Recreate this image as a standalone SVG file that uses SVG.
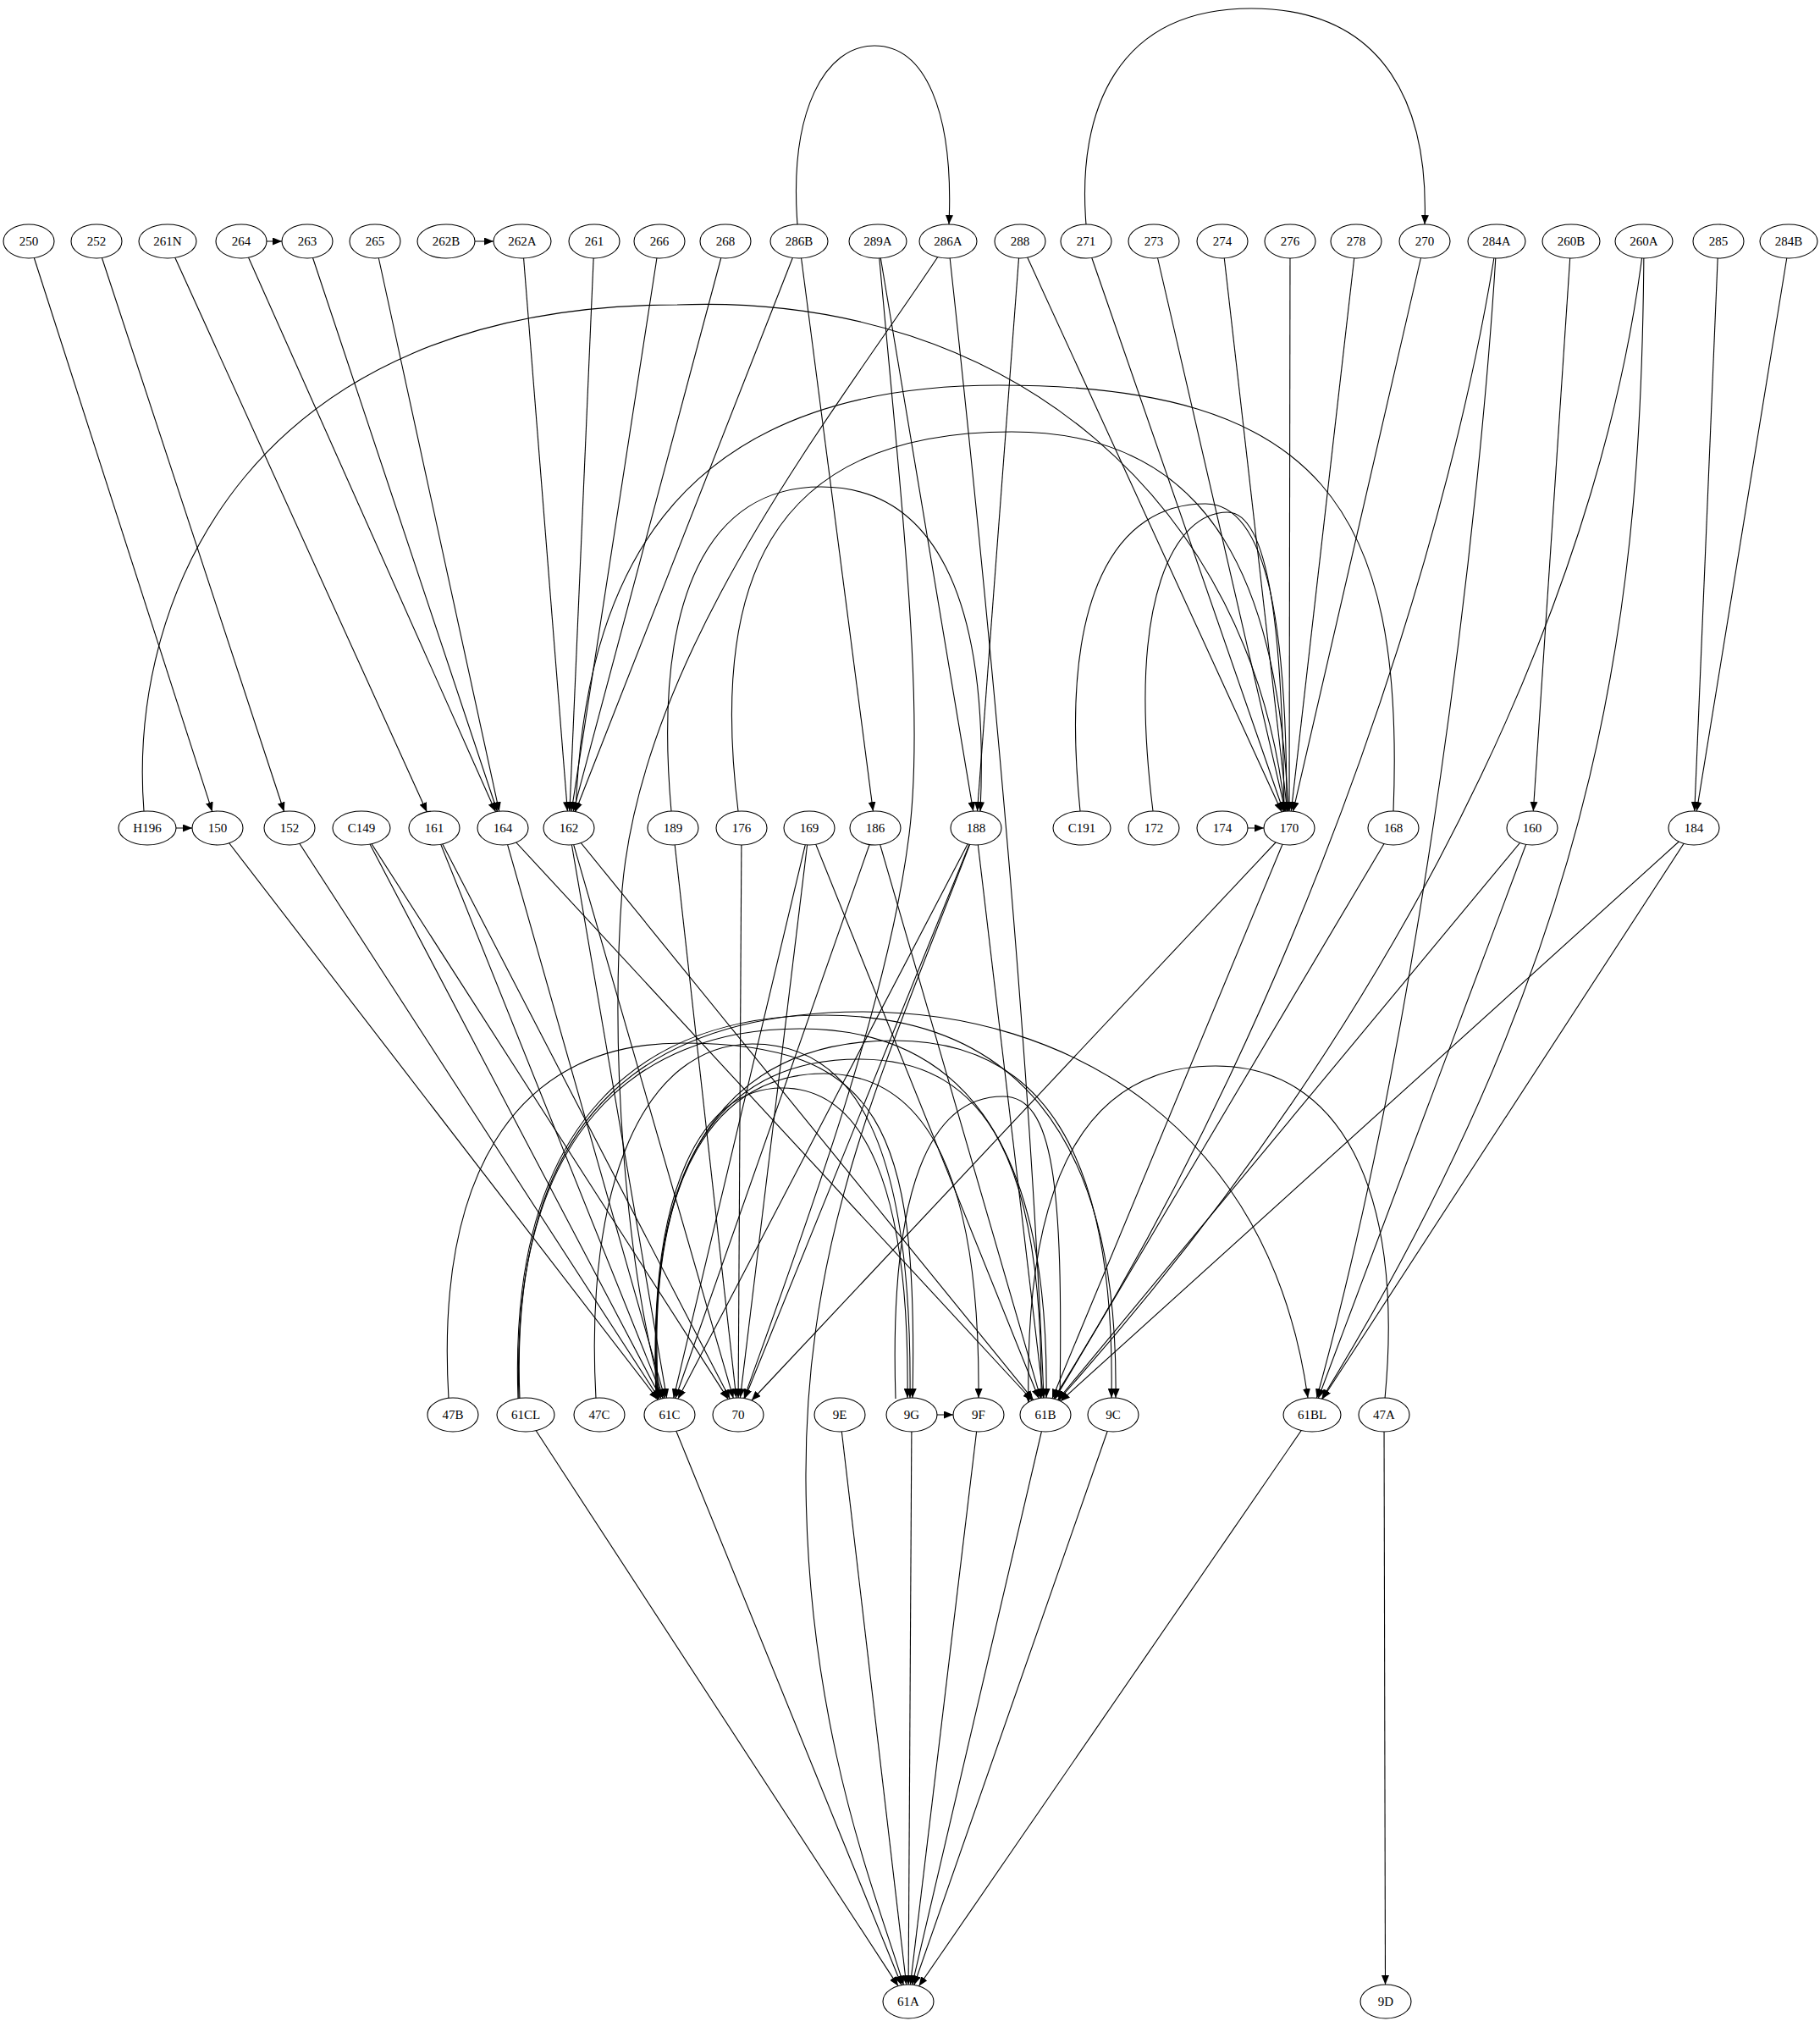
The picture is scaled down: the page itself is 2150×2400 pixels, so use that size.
<svg xmlns="http://www.w3.org/2000/svg" width="2150" height="2400" viewBox="0 0 2150 2400">
<style>
.node ellipse{fill:#fff;stroke:#000;stroke-width:1.1}
.node text{font-family:"Liberation Serif","Times New Roman",serif;font-size:15px;text-anchor:middle;fill:#000}
.edges path{fill:none;stroke:#000;stroke-width:1.1;marker-end:url(#arr)}
</style>
<defs>
<marker id="arr" markerWidth="12" markerHeight="9" refX="11" refY="4.5" orient="auto" markerUnits="userSpaceOnUse"><path d="M0,0 L11,4.5 L0,9 z" fill="#000"/></marker>
</defs>
<rect width="2150" height="2400" fill="#fff"/>
<g id="connectors" class="edges">
<path d="M34,285 L250.7,958.4"/>
<path d="M114,285 L335.6,958.5"/>
<path d="M198,285 L504.3,958.9"/>
<path d="M285,285 L585.5,958.8"/>
<path d="M363,285 L587.5,958.5"/>
<path d="M443,285 L589.7,958.2"/>
<path d="M617,285 L670.4,958"/>
<path d="M702,285 L672.9,958"/>
<path d="M779,285 L675.1,958.1"/>
<path d="M857,285 L677.3,958.3"/>
<path d="M944,285 L679.6,958.7"/>
<path d="M944,285 L1031.4,958.1"/>
<path d="M1037,285 L1149.7,958.1"/>
<path d="M1205,285 L1154.5,958"/>
<path d="M1205,285 L1514.2,958.9"/>
<path d="M1283,285 L1516.3,958.5"/>
<path d="M1363,285 L1518.4,958.2"/>
<path d="M1444,285 L1520.7,958"/>
<path d="M1524,285 L1523,958"/>
<path d="M1602,285 L1525.3,958"/>
<path d="M1683,285 L1527.6,958.2"/>
<path d="M1856,285 L1811.3,958"/>
<path d="M2030,285 L2001.8,958"/>
<path d="M2114,285 L2004.3,958.1"/>
<path d="M285,285 L333,285"/>
<path d="M527,285 L583,285"/>
<path d="M942,265 C932,130 975,54 1033,54 C1092,54 1127,130 1121,265"/>
<path d="M1283,265 C1272,130 1320,10 1478,10 C1640,10 1688,130 1683,265"/>
<path d="M1120,285 C1160,650 1215,1200 1233,1651"/>
<path d="M1768,285 C1720,600 1560,1150 1244.7,1652.1"/>
<path d="M1768,285 C1750,600 1680,1200 1555.5,1651.3"/>
<path d="M1942,285 C1900,650 1700,1150 1250.3,1653.8"/>
<path d="M1942,285 C1940,700 1900,1100 1561.5,1652.2"/>
<path d="M1120,285 C1000,470 760,760 735,1050 C720,1250 740,1500 783,1651.5"/>
<path d="M1037,285 C1065,600 1095,850 1072,1000 C1045,1200 940,1480 878.9,1651.5"/>
<path d="M174,978 L227,978"/>
<path d="M1444,978 L1493,978"/>
<path d="M170,958 C150,700 300,360 800,360 C1200,345 1480,600 1518,958.3"/>
<path d="M1646,958 C1660,600 1560,455 1180,455 C780,455 690,700 680,958.7"/>
<path d="M872,958 C840,700 900,510 1195,510 C1440,510 1510,700 1522,958"/>
<path d="M793,958 C770,700 840,575 970,575 C1100,575 1170,700 1158,958.3"/>
<path d="M1276,958 C1250,700 1320,595 1424,595 C1500,595 1520,750 1520,958"/>
<path d="M1362,958 C1330,700 1390,605 1450,605 C1500,605 1515,750 1517,958"/>
<path d="M257,978 L777.3,1653.2"/>
<path d="M342,978 L779.1,1652.6"/>
<path d="M427,978 L781.1,1652.1"/>
<path d="M427,978 L860.2,1652.6"/>
<path d="M513,978 L783.3,1651.7"/>
<path d="M513,978 L862.2,1652.1"/>
<path d="M594,978 L785.4,1651.4"/>
<path d="M594,978 L1219.3,1654"/>
<path d="M672,978 L787.6,1651.1"/>
<path d="M672,978 L866.3,1651.4"/>
<path d="M672,978 L1220.7,1653.4"/>
<path d="M795,978 L869.8,1651.1"/>
<path d="M876,978 L872.1,1651"/>
<path d="M956,978 L795.7,1651.3"/>
<path d="M956,978 L874.4,1651.1"/>
<path d="M956,978 L1227.2,1651.7"/>
<path d="M1034,978 L797.8,1651.5"/>
<path d="M1034,978 L1229.3,1651.4"/>
<path d="M1153,978 L800.9,1652.1"/>
<path d="M1153,978 L879.8,1651.7"/>
<path d="M1153,978 L1232.6,1651.1"/>
<path d="M1523,978 L887.9,1654"/>
<path d="M1523,978 L1243,1651.7"/>
<path d="M1646,978 L1246,1652.4"/>
<path d="M1810,978 L1249.5,1653.5"/>
<path d="M1810,978 L1557.3,1651.5"/>
<path d="M2001,978 L1252.8,1654.9"/>
<path d="M2001,978 L1562.2,1652.3"/>
<path d="M1153,978 C1050,1250 950,1450 952,1750 C954,2050 1040,2250 1067.3,2344.4"/>
<path d="M1077,1671 L1126,1671"/>
<path d="M530,1652 C515,1400 600,1232 805,1232 C1040,1232 1085,1330 1078,1651"/>
<path d="M704,1652 C690,1400 760,1233 889,1233 C1010,1233 1078,1350 1075,1651"/>
<path d="M775,1652 C765,1400 830,1285 924,1285 C1020,1285 1075,1400 1072,1651"/>
<path d="M776,1652 C762,1380 850,1268 973,1268 C1100,1268 1158,1400 1156,1651"/>
<path d="M777,1652 C760,1360 860,1251 1015,1251 C1170,1251 1232,1380 1230,1651"/>
<path d="M778,1652 C758,1340 880,1229 1057,1229 C1230,1229 1318,1360 1313,1651"/>
<path d="M612,1652 C600,1320 760,1199 973,1199 C1190,1199 1322,1330 1318,1651"/>
<path d="M613,1652 C602,1340 750,1215 945,1215 C1130,1215 1240,1340 1236,1651"/>
<path d="M614,1652 C600,1300 780,1195 1020,1195 C1260,1195 1500,1330 1545,1651"/>
<path d="M1058,1652 C1050,1400 1100,1295 1185,1295 C1245,1295 1256,1400 1252,1654.5"/>
<path d="M1636,1652 C1660,1400 1580,1259 1436,1259 C1290,1259 1210,1380 1215,1656.7"/>
<path d="M621,1671 L1061,2345.6"/>
<path d="M791,1671 L1065.1,2344.7"/>
<path d="M992,1671 L1070.7,2344.1"/>
<path d="M1077,1671 L1073.1,2344"/>
<path d="M1156,1671 L1075.4,2344.1"/>
<path d="M1235,1671 L1077.6,2344.2"/>
<path d="M1315,1671 L1079.8,2344.5"/>
<path d="M1550,1671 L1085.5,2345.8"/>
<path d="M1635,1671 L1636.5,2344"/>
</g>
<g id="n-250" class="node"><ellipse cx="34" cy="285" rx="30" ry="20"/><text x="34" y="290">250</text></g>
<g id="n-252" class="node"><ellipse cx="114" cy="285" rx="30" ry="20"/><text x="114" y="290">252</text></g>
<g id="n-261N" class="node"><ellipse cx="198" cy="285" rx="34" ry="20"/><text x="198" y="290">261N</text></g>
<g id="n-264" class="node"><ellipse cx="285" cy="285" rx="30" ry="20"/><text x="285" y="290">264</text></g>
<g id="n-263" class="node"><ellipse cx="363" cy="285" rx="30" ry="20"/><text x="363" y="290">263</text></g>
<g id="n-265" class="node"><ellipse cx="443" cy="285" rx="30" ry="20"/><text x="443" y="290">265</text></g>
<g id="n-262B" class="node"><ellipse cx="527" cy="285" rx="34" ry="20"/><text x="527" y="290">262B</text></g>
<g id="n-262A" class="node"><ellipse cx="617" cy="285" rx="34" ry="20"/><text x="617" y="290">262A</text></g>
<g id="n-261" class="node"><ellipse cx="702" cy="285" rx="30" ry="20"/><text x="702" y="290">261</text></g>
<g id="n-266" class="node"><ellipse cx="779" cy="285" rx="30" ry="20"/><text x="779" y="290">266</text></g>
<g id="n-268" class="node"><ellipse cx="857" cy="285" rx="30" ry="20"/><text x="857" y="290">268</text></g>
<g id="n-286B" class="node"><ellipse cx="944" cy="285" rx="34" ry="20"/><text x="944" y="290">286B</text></g>
<g id="n-289A" class="node"><ellipse cx="1037" cy="285" rx="34" ry="20"/><text x="1037" y="290">289A</text></g>
<g id="n-286A" class="node"><ellipse cx="1120" cy="285" rx="34" ry="20"/><text x="1120" y="290">286A</text></g>
<g id="n-288" class="node"><ellipse cx="1205" cy="285" rx="30" ry="20"/><text x="1205" y="290">288</text></g>
<g id="n-271" class="node"><ellipse cx="1283" cy="285" rx="30" ry="20"/><text x="1283" y="290">271</text></g>
<g id="n-273" class="node"><ellipse cx="1363" cy="285" rx="30" ry="20"/><text x="1363" y="290">273</text></g>
<g id="n-274" class="node"><ellipse cx="1444" cy="285" rx="30" ry="20"/><text x="1444" y="290">274</text></g>
<g id="n-276" class="node"><ellipse cx="1524" cy="285" rx="30" ry="20"/><text x="1524" y="290">276</text></g>
<g id="n-278" class="node"><ellipse cx="1602" cy="285" rx="30" ry="20"/><text x="1602" y="290">278</text></g>
<g id="n-270" class="node"><ellipse cx="1683" cy="285" rx="30" ry="20"/><text x="1683" y="290">270</text></g>
<g id="n-284A" class="node"><ellipse cx="1768" cy="285" rx="34" ry="20"/><text x="1768" y="290">284A</text></g>
<g id="n-260B" class="node"><ellipse cx="1856" cy="285" rx="34" ry="20"/><text x="1856" y="290">260B</text></g>
<g id="n-260A" class="node"><ellipse cx="1942" cy="285" rx="34" ry="20"/><text x="1942" y="290">260A</text></g>
<g id="n-285" class="node"><ellipse cx="2030" cy="285" rx="30" ry="20"/><text x="2030" y="290">285</text></g>
<g id="n-284B" class="node"><ellipse cx="2113" cy="285" rx="34" ry="20"/><text x="2113" y="290">284B</text></g>
<g id="n-H196" class="node"><ellipse cx="174" cy="978" rx="34" ry="20"/><text x="174" y="983">H196</text></g>
<g id="n-150" class="node"><ellipse cx="257" cy="978" rx="30" ry="20"/><text x="257" y="983">150</text></g>
<g id="n-152" class="node"><ellipse cx="342" cy="978" rx="30" ry="20"/><text x="342" y="983">152</text></g>
<g id="n-C149" class="node"><ellipse cx="427" cy="978" rx="34" ry="20"/><text x="427" y="983">C149</text></g>
<g id="n-161" class="node"><ellipse cx="513" cy="978" rx="30" ry="20"/><text x="513" y="983">161</text></g>
<g id="n-164" class="node"><ellipse cx="594" cy="978" rx="30" ry="20"/><text x="594" y="983">164</text></g>
<g id="n-162" class="node"><ellipse cx="672" cy="978" rx="30" ry="20"/><text x="672" y="983">162</text></g>
<g id="n-189" class="node"><ellipse cx="795" cy="978" rx="30" ry="20"/><text x="795" y="983">189</text></g>
<g id="n-176" class="node"><ellipse cx="876" cy="978" rx="30" ry="20"/><text x="876" y="983">176</text></g>
<g id="n-169" class="node"><ellipse cx="956" cy="978" rx="30" ry="20"/><text x="956" y="983">169</text></g>
<g id="n-186" class="node"><ellipse cx="1034" cy="978" rx="30" ry="20"/><text x="1034" y="983">186</text></g>
<g id="n-188" class="node"><ellipse cx="1153" cy="978" rx="30" ry="20"/><text x="1153" y="983">188</text></g>
<g id="n-C191" class="node"><ellipse cx="1278" cy="978" rx="34" ry="20"/><text x="1278" y="983">C191</text></g>
<g id="n-172" class="node"><ellipse cx="1363" cy="978" rx="30" ry="20"/><text x="1363" y="983">172</text></g>
<g id="n-174" class="node"><ellipse cx="1444" cy="978" rx="30" ry="20"/><text x="1444" y="983">174</text></g>
<g id="n-170" class="node"><ellipse cx="1523" cy="978" rx="30" ry="20"/><text x="1523" y="983">170</text></g>
<g id="n-168" class="node"><ellipse cx="1646" cy="978" rx="30" ry="20"/><text x="1646" y="983">168</text></g>
<g id="n-160" class="node"><ellipse cx="1810" cy="978" rx="30" ry="20"/><text x="1810" y="983">160</text></g>
<g id="n-184" class="node"><ellipse cx="2001" cy="978" rx="30" ry="20"/><text x="2001" y="983">184</text></g>
<g id="n-47B" class="node"><ellipse cx="535" cy="1671" rx="30" ry="20"/><text x="535" y="1676">47B</text></g>
<g id="n-61CL" class="node"><ellipse cx="621" cy="1671" rx="34" ry="20"/><text x="621" y="1676">61CL</text></g>
<g id="n-47C" class="node"><ellipse cx="708" cy="1671" rx="30" ry="20"/><text x="708" y="1676">47C</text></g>
<g id="n-61C" class="node"><ellipse cx="791" cy="1671" rx="30" ry="20"/><text x="791" y="1676">61C</text></g>
<g id="n-70" class="node"><ellipse cx="872" cy="1671" rx="30" ry="20"/><text x="872" y="1676">70</text></g>
<g id="n-9E" class="node"><ellipse cx="992" cy="1671" rx="30" ry="20"/><text x="992" y="1676">9E</text></g>
<g id="n-9G" class="node"><ellipse cx="1077" cy="1671" rx="30" ry="20"/><text x="1077" y="1676">9G</text></g>
<g id="n-9F" class="node"><ellipse cx="1156" cy="1671" rx="30" ry="20"/><text x="1156" y="1676">9F</text></g>
<g id="n-61B" class="node"><ellipse cx="1235" cy="1671" rx="30" ry="20"/><text x="1235" y="1676">61B</text></g>
<g id="n-9C" class="node"><ellipse cx="1315" cy="1671" rx="30" ry="20"/><text x="1315" y="1676">9C</text></g>
<g id="n-61BL" class="node"><ellipse cx="1550" cy="1671" rx="34" ry="20"/><text x="1550" y="1676">61BL</text></g>
<g id="n-47A" class="node"><ellipse cx="1635" cy="1671" rx="30" ry="20"/><text x="1635" y="1676">47A</text></g>
<g id="n-61A" class="node"><ellipse cx="1073" cy="2364" rx="30" ry="20"/><text x="1073" y="2369">61A</text></g>
<g id="n-9D" class="node"><ellipse cx="1637" cy="2364" rx="30" ry="20"/><text x="1637" y="2369">9D</text></g>
</svg>
